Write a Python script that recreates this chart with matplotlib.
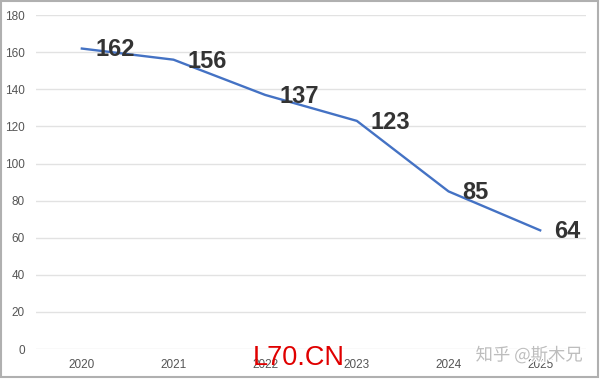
import matplotlib.pyplot as plt
import matplotlib.patheffects as pe
from matplotlib.patches import Rectangle

years = ['2020', '2021', '2022', '2023', '2024', '2025']
values = [162, 156, 137, 123, 85, 64]
y_ticks = [0, 20, 40, 60, 80, 100, 120, 140, 160, 180]

plt.rcParams['font.family'] = ['Liberation Sans', 'DejaVu Sans']

fig = plt.figure(figsize=(6, 3.79), dpi=100)
ax = fig.add_axes([0.06, 0.079, 0.9167, 0.881])

x = list(range(len(years)))
ax.plot(x, values, color='#4472C4', linewidth=1.7, solid_joinstyle='round', zorder=3)

# value labels sit to the right of each point
for xi, v in zip(x, values):
    ax.annotate(str(v), (xi, v), xytext=(10, -1), textcoords='offset points',
                fontsize=17, fontweight='bold', color='#333333',
                ha='left', va='center', zorder=4)

ax.set_xlim(-0.5, len(years) - 0.5)
ax.set_ylim(0, 180)
ax.set_xticks(x)
ax.set_xticklabels(years)
ax.set_yticks(y_ticks)
ax.tick_params(axis='both', length=0, labelsize=8.5, labelcolor='#555555')
ax.tick_params(axis='x', pad=7)
ax.tick_params(axis='y', pad=8)
ax.grid(axis='y', color='#e2e2e2', linewidth=1)
ax.set_axisbelow(True)
for s in ax.spines.values():
    s.set_visible(False)

# frame around the screenshot
fig.patches.append(Rectangle((0.002, 0.004), 0.994, 0.994, transform=fig.transFigure,
                             fill=False, edgecolor='#b0b0b0', linewidth=1.5))

# watermarks
fig.text(0.498, 0.055, 'L70.CN', color='#e00000', fontsize=19.5,
         ha='center', va='center')
fig.text(0.882, 0.063, '知乎 @斯木兄', color='#bdbdbd', fontsize=12.5,
         ha='center', va='center', family=['Noto Sans CJK SC', 'DejaVu Sans'],
         path_effects=[pe.withStroke(linewidth=2, foreground='white')])

fig.savefig('out.png', dpi=100)
plt.close(fig)
